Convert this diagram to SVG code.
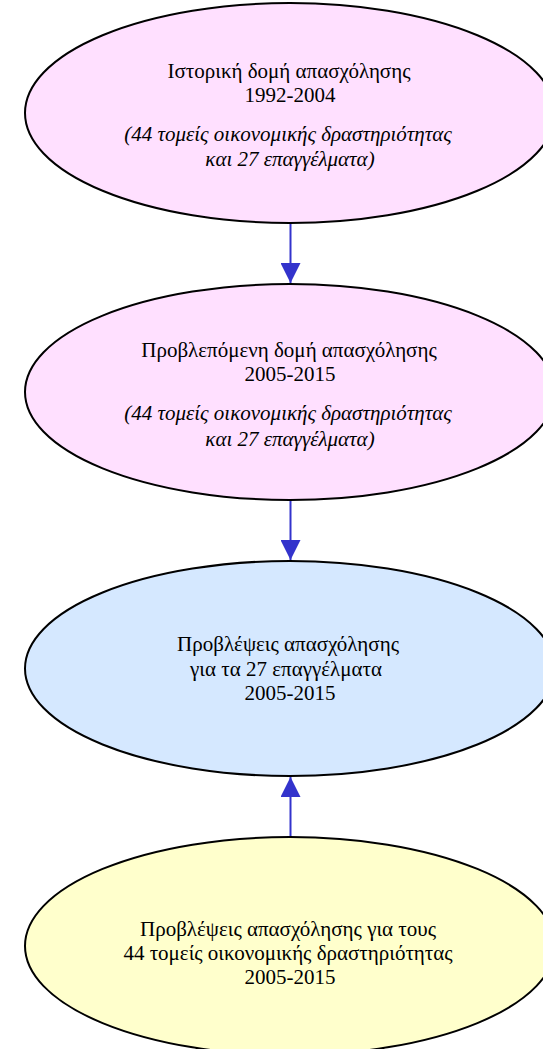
<svg xmlns="http://www.w3.org/2000/svg" width="543" height="1049" viewBox="0 0 543 1049">
  <style>
    .node ellipse { stroke: #000000; stroke-width: 2; }
    .pink { fill: #FFE0FF; }
    .blue { fill: #D5E8FF; }
    .yellow { fill: #FFFFCC; }
    text { font-family: "Liberation Serif", "Times New Roman", serif; font-size: 21px; fill: #000000; text-anchor: middle; }
    .it { font-style: italic; }
    .edge line { stroke: #3333CC; stroke-width: 2; }
  </style>
  <defs>
    <marker id="arrow" markerUnits="userSpaceOnUse" markerWidth="20" markerHeight="20" refX="20" refY="10" orient="auto">
      <path d="M0,0 L20,10 L0,20 z" fill="#3333CC"/>
    </marker>
  </defs>
  <rect width="543" height="1049" fill="#FFFFFF"/>
  <g id="edges" class="edge">
    <line x1="290.5" y1="223" x2="290.5" y2="283" marker-end="url(#arrow)"/>
    <line x1="290.5" y1="500" x2="290.5" y2="560" marker-end="url(#arrow)"/>
    <line x1="290.5" y1="837" x2="290.5" y2="777" marker-end="url(#arrow)"/>
  </g>
  <g id="node1" class="node">
    <ellipse class="pink" cx="290" cy="113" rx="265" ry="110"/>
    <text x="289" y="78">Ιστορική δομή απασχόλησης</text>
    <text x="290" y="102">1992-2004</text>
    <text class="it" x="288" y="141">(44 τομείς οικονομικής δραστηριότητας</text>
    <text class="it" x="290" y="166">και 27 επαγγέλματα)</text>
  </g>
  <g id="node2" class="node">
    <ellipse class="pink" cx="290" cy="392" rx="265" ry="108"/>
    <text x="289" y="357">Προβλεπόμενη δομή απασχόλησης</text>
    <text x="290" y="381">2005-2015</text>
    <text class="it" x="288" y="420">(44 τομείς οικονομικής δραστηριότητας</text>
    <text class="it" x="290" y="446">και 27 επαγγέλματα)</text>
  </g>
  <g id="node3" class="node">
    <ellipse class="blue" cx="290" cy="668.5" rx="265" ry="107.5"/>
    <text x="288" y="651">Προβλέψεις απασχόλησης</text>
    <text x="286" y="676">για τα 27 επαγγέλματα</text>
    <text x="290" y="700">2005-2015</text>
  </g>
  <g id="node4" class="node">
    <ellipse class="yellow" cx="290" cy="946" rx="265" ry="109"/>
    <text x="288" y="936">Προβλέψεις απασχόλησης για τους</text>
    <text x="288" y="960">44 τομείς οικονομικής δραστηριότητας</text>
    <text x="290" y="984">2005-2015</text>
  </g>
</svg>
